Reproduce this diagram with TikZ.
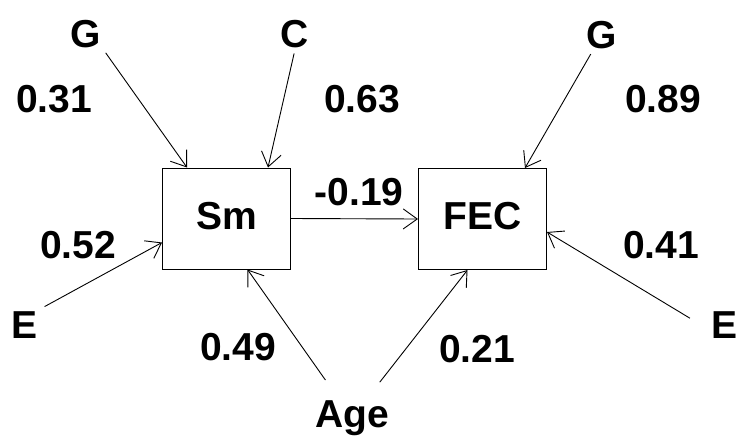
\documentclass[tikz,border=0pt]{standalone}
\usepackage{fontspec}
\setmainfont{Liberation Sans}
\usetikzlibrary{arrows.meta}
\tikzset{
  lbl/.style={font=\fontsize{39}{42}\selectfont\bfseries, inner sep=2pt, anchor=base},
  varbox/.style={draw, line width=1pt, minimum width=128pt, minimum height=101pt,
    inner sep=0pt, text depth=6pt, font=\fontsize{39}{42}\selectfont\bfseries},
  effect/.style={-{Straight Barb[length=14pt,width=20pt]}, line width=0.9pt}
}
\begin{document}
\begin{tikzpicture}[x=1pt,y=-1pt]
  \useasboundingbox (0,0) rectangle (739,437);
  % Variables
  \node[varbox] (sm) at (226.5,218.5) {Sm};
  \node[varbox] (fec) at (482.5,219) {FEC};
  % Sources
  \node[lbl] (g1) at (86,47) {G};
  \node[lbl] (c) at (295,47) {C};
  \node[lbl] (g2) at (602,48) {G};
  \node[lbl] (e1) at (25,338) {E};
  \node[lbl] (e2) at (724,338) {E};
  \node[lbl] (age) at (352,427) {Age};
  % Coefficients
  \node[lbl] (k31) at (54,112) {0.31};
  \node[lbl] (k63) at (362,112) {0.63};
  \node[lbl] (k89) at (663,112) {0.89};
  \node[lbl] (k19) at (359,205) {-0.19};
  \node[lbl] (k52) at (78,258) {0.52};
  \node[lbl] (k41) at (661,258) {0.41};
  \node[lbl] (k49) at (238,360) {0.49};
  \node[lbl] (k21) at (477,362) {0.21};
  % Paths
  \draw[effect, shorten <=4pt] (g1.south east) -- ([xshift=25pt]sm.north west);
  \draw[effect, shorten <=4pt] (c.south) -- ([xshift=-23pt]sm.north east);
  \draw[effect, shorten <=5pt] (e1.north east) -- ([yshift=27pt]sm.south west);
  \draw[effect, shorten <=22pt] (age) -- ([xshift=21pt]sm.south);
  \draw[effect] (sm.east) -- (fec.west);
  \draw[effect, shorten <=4pt] (g2) -- ([xshift=-22pt]fec.north east);
  \draw[effect, shorten <=22pt] ([yshift=-5pt]e2.west) -- ([yshift=-13pt]fec.east);
  \draw[effect, shorten <=20pt] (age) -- ([xshift=-15pt]fec.south);
\end{tikzpicture}
\end{document}
